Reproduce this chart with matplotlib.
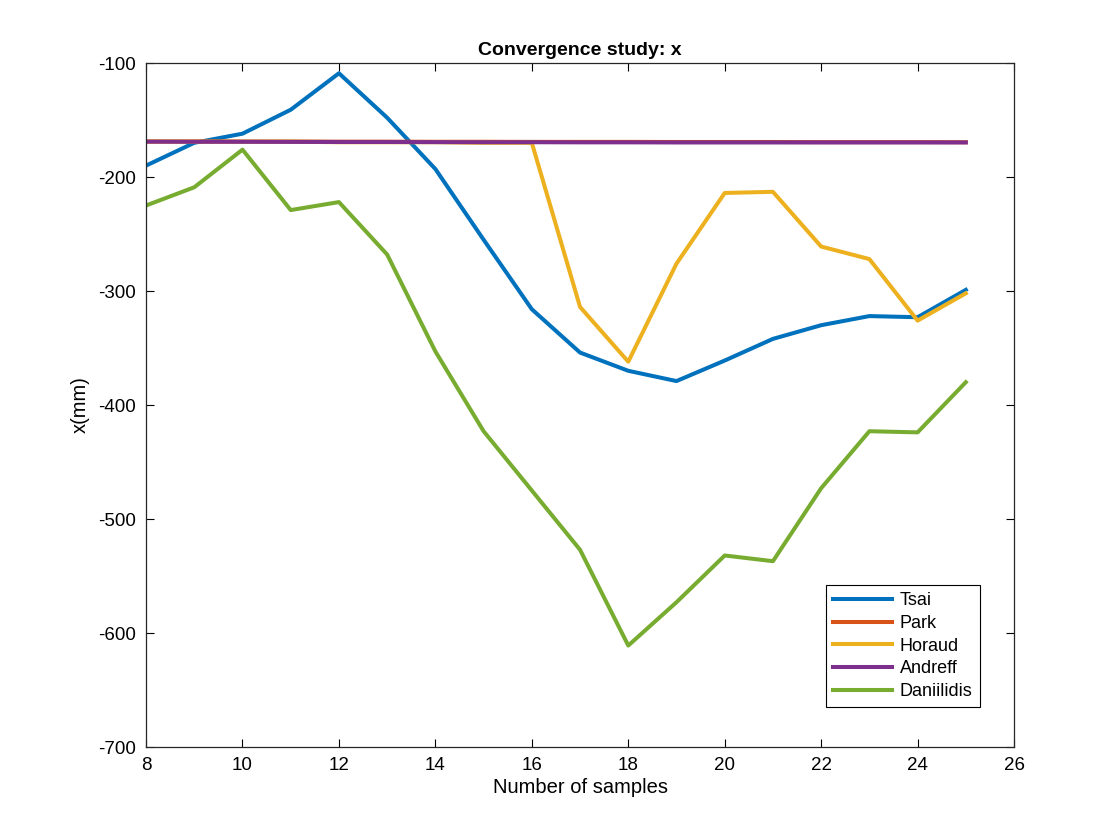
import numpy as np
import matplotlib
matplotlib.use("Agg")
import matplotlib.pyplot as plt

# -------------------------------------------------------
# DATA
# -------------------------------------------------------
samples = list(range(8, 26))

tsai = [-190, -170, -162, -141, -109, -148, -193, -255, -316, -354,
        -370, -379, -361, -342, -330, -322, -323, -299]
park = [-168.8, -168.8, -168.9, -168.9, -169.0, -169.0, -169.1, -169.1, -169.2,
        -169.2, -169.2, -169.3, -169.3, -169.3, -169.4, -169.4, -169.4, -169.5]
horaud = [-169, -169, -169, -169, -169.5, -169.5, -169.5, -170, -170, -314,
          -362, -276, -214, -213, -261, -272, -326, -302]
andreff = [-169.0, -169.1, -169.1, -169.2, -169.3, -169.3, -169.4, -169.5, -169.5,
           -169.6, -169.6, -169.7, -169.7, -169.7, -169.7, -169.7, -169.7, -169.7]
daniilidis = [-225, -209, -176, -229, -222, -268, -353, -423, -475, -527,
              -611, -573, -532, -537, -473, -423, -424, -380]

SERIES = [
    ("Tsai", tsai, "#0072BD"),
    ("Park", park, "#D95319"),
    ("Horaud", horaud, "#EDB120"),
    ("Andreff", andreff, "#7E2F8E"),
    ("Daniilidis", daniilidis, "#77AC30"),
]

plt.rcParams["font.family"] = ["Liberation Sans", "DejaVu Sans"]
plt.rcParams["axes.unicode_minus"] = False

# -------------------------------------------------------
# PLOT
# -------------------------------------------------------
fig = plt.figure(figsize=(11.2, 8.4), dpi=100)
ax = fig.add_axes([0.1304, 0.1107, 0.775, 0.8143])

for name, values, color in SERIES:
    ax.plot(samples, values, color=color, linewidth=2.9, label=name)

ax.set_xlim(8, 26)
ax.set_ylim(-700, -100)
ax.set_xticks(np.arange(8, 27, 2))
ax.set_yticks(np.arange(-700, -99, 100))

ax.tick_params(direction="in", length=6, width=0.8, top=True, right=True,
               labelsize=13.5, pad=7)
for spine in ax.spines.values():
    spine.set_linewidth(0.9)
    spine.set_color("#262626")

ax.set_title("Convergence study: x", fontsize=14, fontweight="bold", pad=6)
ax.set_xlabel("Number of samples", fontsize=14.5, labelpad=3)
ax.set_ylabel("x(mm)", fontsize=14.5, labelpad=6)

leg = ax.legend(loc="upper left", bbox_to_anchor=(0.783, 0.237),
                borderaxespad=0, fontsize=13, fancybox=False,
                edgecolor="black", framealpha=1, handlelength=3.3,
                handletextpad=0.4, labelspacing=0.32, borderpad=0.4)
leg.get_frame().set_linewidth(0.8)

fig.savefig("out.png", dpi=100, facecolor="white")
